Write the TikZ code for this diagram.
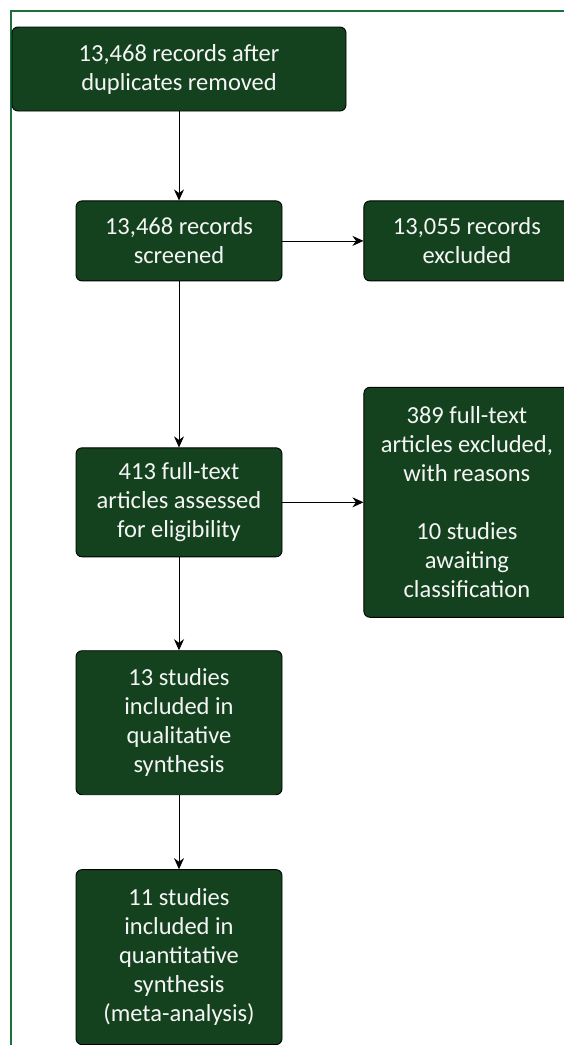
\documentclass[tikz,border=0pt]{standalone}
\usepackage{fontspec}
\setmainfont{Carlito}
\usetikzlibrary{positioning, arrows.meta}
\definecolor{boxgreen}{RGB}{20,66,30}
\definecolor{framegreen}{RGB}{28,112,62}
\tikzset{
every node/.style = {font = \fontsize{24.5}{29}\selectfont},
stage/.style = {rectangle, rounded corners = 6pt, draw = black, line width = 0.9pt, fill = boxgreen,
	text = white!96!black, align = center, inner sep = 0pt, minimum width = 206pt},
flow/.style = {-{Stealth[length = 11pt, width = 10pt]}, line width = 0.8pt, black}
}
\begin{document}
\begin{tikzpicture}
\useasboundingbox (0pt,0pt) rectangle (564pt,-1045pt);
\clip (0pt,0pt) rectangle (564pt,-1045pt);

%% The frame
\draw [framegreen, line width = 2pt] (10.5pt,-1046pt) -- (10.5pt,-10.5pt) -- (565pt,-10.5pt);

%% The stages
\node [stage, minimum width = 334pt, minimum height = 84pt] (dup) at (179pt,-69pt)
	{13,468 records after\\duplicates removed};
\node [stage, minimum height = 80pt] (screen) [below = 89pt of dup]
	{13,468 records\\screened};
\node [stage, minimum height = 80pt] (recexcl) [right = 81pt of screen]
	{13,055 records\\excluded};
\node [stage, minimum height = 109pt] (elig) [below = 166pt of screen]
	{413 full-text\\articles assessed\\for eligibility};
\node [stage, minimum height = 230pt] (ftexcl) [right = 81pt of elig]
	{389 full-text\\articles excluded,\\with reasons\\[29pt]10 studies\\awaiting\\classification};
\node [stage, minimum height = 144pt] (qual) [below = 93pt of elig]
	{13 studies\\included in\\qualitative\\synthesis};
\node [stage, minimum height = 175pt] (quant) [below = 74pt of qual]
	{11 studies\\included in\\quantitative\\synthesis\\(meta-analysis)};

%% The flow
\path [flow] (dup) edge (screen);
\path [flow] (screen) edge (recexcl);
\path [flow] (screen) edge (elig);
\path [flow] (elig) edge (ftexcl);
\path [flow] (elig) edge (qual);
\path [flow] (qual) edge (quant);

\end{tikzpicture}
\end{document}
